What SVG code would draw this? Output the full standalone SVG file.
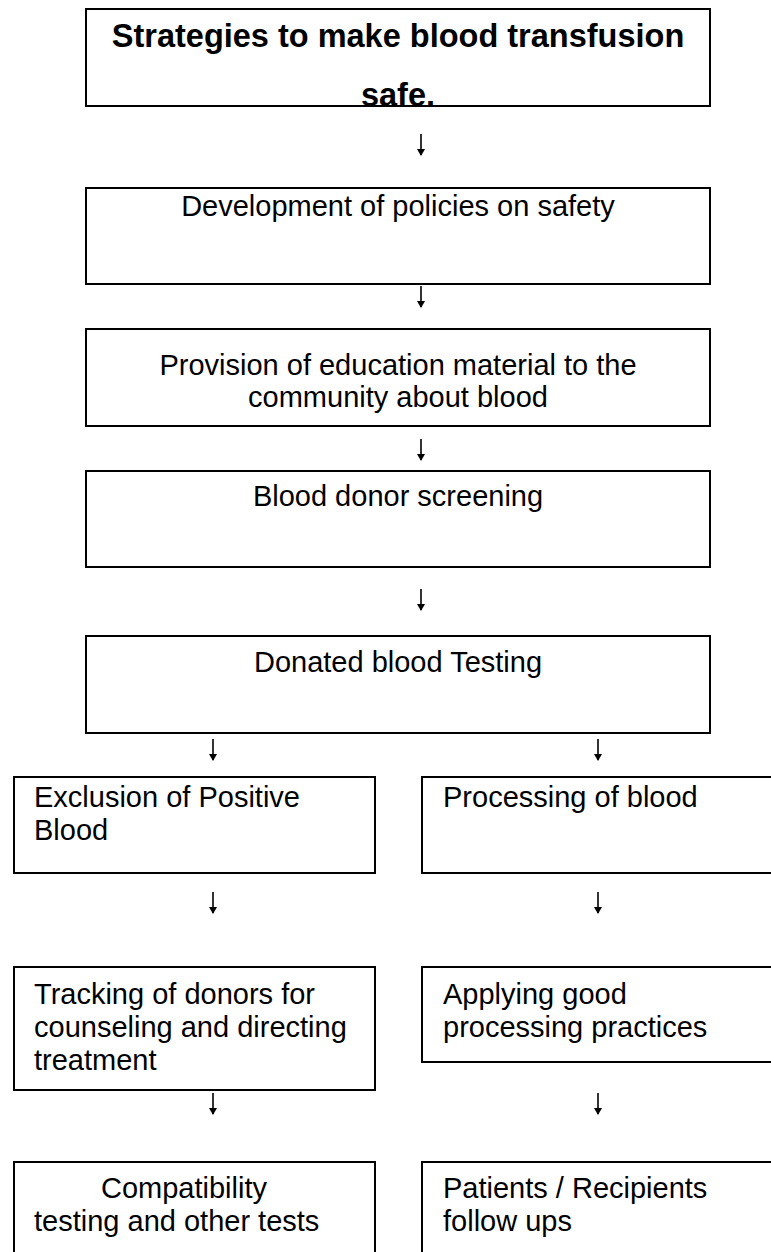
<svg xmlns="http://www.w3.org/2000/svg" width="771" height="1252" viewBox="0 0 771 1252">
<style>
.box{fill:#fff;stroke:#000;stroke-width:2}
.t{font-family:"Liberation Sans",Arial,sans-serif;font-size:29px;fill:#000}
.c{text-anchor:middle}
.title{font-family:"Liberation Sans",Arial,sans-serif;font-size:32.5px;font-weight:bold;fill:#000;text-anchor:middle}
.arr{stroke:#000;stroke-width:1.6;fill:none}
</style>
<defs>
<marker id="ah" markerUnits="userSpaceOnUse" markerWidth="8" markerHeight="8" refX="6" refY="4" orient="auto">
<path d="M0,0 L7,4 L0,8 z" fill="#000"/>
</marker>
<clipPath id="clipTitle"><rect x="87" y="10" width="622" height="95"/></clipPath>
</defs>
<rect width="771" height="1252" fill="#fff"/>

<g id="n1">
<rect class="box" x="86" y="9" width="624" height="97"/>
<g clip-path="url(#clipTitle)">
<text class="title" x="398" y="47">Strategies to make blood transfusion</text>
<text class="title" x="398" y="106">safe.</text>
</g>
<rect x="86" y="9" width="624" height="97" fill="none" stroke="#000" stroke-width="2"/>
</g>

<g id="n2">
<rect class="box" x="86" y="188" width="624" height="96"/>
<text class="t c" x="398" y="216">Development of policies on safety</text>
</g>

<g id="n3">
<rect class="box" x="86" y="329" width="624" height="97"/>
<text class="t c" x="398" y="375">Provision of education material to the</text>
<text class="t c" x="398" y="407">community about blood</text>
</g>

<g id="n4">
<rect class="box" x="86" y="471" width="624" height="96"/>
<text class="t c" x="398" y="506">Blood donor screening</text>
</g>

<g id="n5">
<rect class="box" x="86" y="636" width="624" height="97"/>
<text class="t c" x="398" y="672">Donated blood Testing</text>
</g>

<g id="n6a">
<rect class="box" x="14" y="777" width="361" height="96"/>
<text class="t" x="34" y="807">Exclusion of Positive</text>
<text class="t" x="34" y="840">Blood</text>
</g>

<g id="n6b">
<rect class="box" x="422" y="777" width="360" height="96"/>
<text class="t" x="443" y="807">Processing of blood</text>
</g>

<g id="n7a">
<rect class="box" x="14" y="967" width="361" height="123"/>
<text class="t" x="34" y="1004">Tracking of donors for</text>
<text class="t" x="34" y="1037">counseling and directing</text>
<text class="t" x="34" y="1070">treatment</text>
</g>

<g id="n7b">
<rect class="box" x="422" y="967" width="360" height="95"/>
<text class="t" x="443" y="1004">Applying good</text>
<text class="t" x="443" y="1037">processing practices</text>
</g>

<g id="n8a">
<rect class="box" x="14" y="1162" width="361" height="100"/>
<text class="t" x="101" y="1198">Compatibility</text>
<text class="t" x="34" y="1231">testing and other tests</text>
</g>

<g id="n8b">
<rect class="box" x="422" y="1162" width="360" height="100"/>
<text class="t" x="443" y="1198">Patients / Recipients</text>
<text class="t" x="443" y="1231">follow ups</text>
</g>

<g id="connectors">
<line class="arr" x1="421" y1="134" x2="421" y2="155" marker-end="url(#ah)"/>
<line class="arr" x1="421" y1="286" x2="421" y2="307" marker-end="url(#ah)"/>
<line class="arr" x1="421" y1="439" x2="421" y2="460" marker-end="url(#ah)"/>
<line class="arr" x1="421" y1="589" x2="421" y2="610" marker-end="url(#ah)"/>
<line class="arr" x1="213" y1="739" x2="213" y2="760" marker-end="url(#ah)"/>
<line class="arr" x1="598" y1="739" x2="598" y2="760" marker-end="url(#ah)"/>
<line class="arr" x1="213" y1="892" x2="213" y2="913" marker-end="url(#ah)"/>
<line class="arr" x1="598" y1="892" x2="598" y2="913" marker-end="url(#ah)"/>
<line class="arr" x1="213" y1="1093" x2="213" y2="1114" marker-end="url(#ah)"/>
<line class="arr" x1="598" y1="1093" x2="598" y2="1114" marker-end="url(#ah)"/>
</g>
</svg>
